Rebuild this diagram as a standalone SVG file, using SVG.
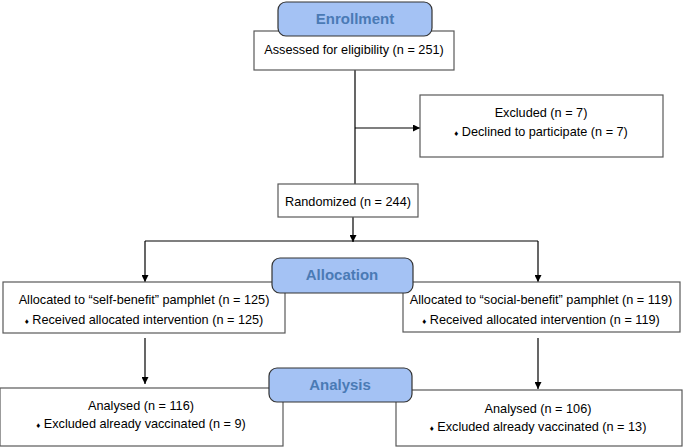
<svg xmlns="http://www.w3.org/2000/svg" width="685" height="447" viewBox="0 0 685 447">
<style>
.box{fill:#fff;stroke:#595959;stroke-width:1.2}
.ban{fill:#a4c2f4;stroke:#333;stroke-width:1.2}
.bt{font-family:"Liberation Sans",Arial,sans-serif;font-size:15px;font-weight:bold;fill:#4a7ab5;text-anchor:middle}
.t{font-family:"Liberation Sans",Arial,sans-serif;font-size:12.7px;fill:#000;text-anchor:middle}
.b{font-size:8px}
.ln{fill:none;stroke:#000;stroke-width:1.2}
</style>
<defs>
<marker id="ah" viewBox="0 0 10 10" refX="10" refY="5" markerWidth="7" markerHeight="7" markerUnits="userSpaceOnUse" orient="auto">
<path d="M0,0L10,5L0,10z" fill="#000"/>
</marker>
</defs>
<rect width="685" height="447" fill="#fff"/>
<g id="connectors">
<path class="ln" d="M355,70V185"/>
<path class="ln" d="M355,128H420" marker-end="url(#ah)"/>
<path class="ln" d="M353,217V242" marker-end="url(#ah)"/>
<path class="ln" d="M145,241H538"/>
<path class="ln" d="M145,241V282" marker-end="url(#ah)"/>
<path class="ln" d="M538,241V282" marker-end="url(#ah)"/>
<path class="ln" d="M145,338V384" marker-end="url(#ah)"/>
<path class="ln" d="M538,338V389" marker-end="url(#ah)"/>
</g>
<g id="assessed">
<rect class="box" x="254" y="31" width="200" height="39"/>
<text class="t" x="354" y="54">Assessed for eligibility (n = 251)</text>
</g>
<g id="enrollment">
<rect class="ban" x="278" y="2" width="154" height="34" rx="8"/>
<text class="bt" x="355" y="24">Enrollment</text>
</g>
<g id="excluded">
<rect class="box" x="420" y="95" width="243" height="62"/>
<text class="t" x="541" y="117">Excluded (n = 7)</text>
<text class="t" x="541" y="136"><tspan class="b">♦</tspan>  Declined to participate (n = 7)</text>
</g>
<g id="randomized">
<rect class="box" x="278" y="184" width="140" height="33"/>
<text class="t" x="348" y="206">Randomized (n = 244)</text>
</g>
<g id="alloc-left">
<rect class="box" x="3" y="282" width="282" height="51"/>
<text class="t" x="144" y="304">Allocated to “self-benefit” pamphlet (n = 125)</text>
<text class="t" x="144" y="324"><tspan class="b">♦</tspan> Received allocated intervention (n = 125)</text>
</g>
<g id="alloc-right">
<rect class="box" x="403" y="282" width="277" height="50"/>
<text class="t" x="541" y="304">Allocated to “social-benefit” pamphlet (n = 119)</text>
<text class="t" x="541" y="324"><tspan class="b">♦</tspan> Received allocated intervention (n = 119)</text>
</g>
<g id="allocation">
<rect class="ban" x="272" y="258" width="141" height="35" rx="8"/>
<text class="bt" x="342" y="280">Allocation</text>
</g>
<g id="analysed-left">
<rect class="box" x="0" y="388" width="283" height="58"/>
<text class="t" x="141" y="410">Analysed (n = 116)</text>
<text class="t" x="141" y="428"><tspan class="b">♦</tspan> Excluded already vaccinated (n = 9)</text>
</g>
<g id="analysed-right">
<rect class="box" x="396" y="390" width="286" height="56"/>
<text class="t" x="538" y="413">Analysed (n = 106)</text>
<text class="t" x="538" y="431"><tspan class="b">♦</tspan> Excluded already vaccinated (n = 13)</text>
</g>
<g id="analysis">
<rect class="ban" x="269" y="368" width="143" height="34" rx="8"/>
<text class="bt" x="340" y="390">Analysis</text>
</g>
</svg>
